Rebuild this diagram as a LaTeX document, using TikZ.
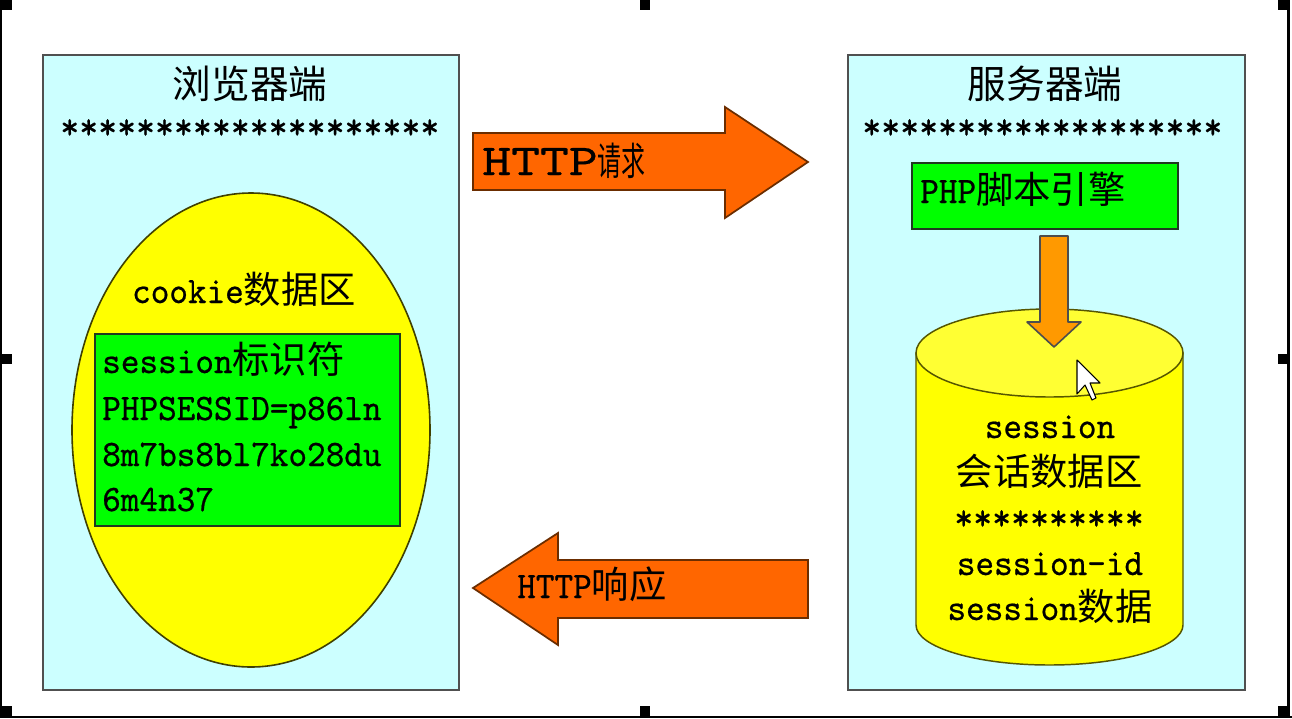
\documentclass[tikz,border=0pt]{standalone}
\usepackage{fontspec}
\setmainfont{lmmono10-regular.otf}[FakeStretch=0.95,FakeBold=0.6]
\newfontfamily\zh{Noto Sans CJK SC}
\newfontfamily\zhnarrow{Noto Sans CJK SC}[FakeStretch=0.62]
\newfontfamily\monowide{lmmono10-regular.otf}[FakeStretch=1.25,FakeBold=0.6]
\definecolor{cyanbg}{HTML}{CCFFFF}
\definecolor{panelline}{HTML}{505050}
\definecolor{ellyellow}{HTML}{FFFF00}
\definecolor{ellline}{HTML}{404000}
\definecolor{boxgreen}{HTML}{00FF00}
\definecolor{greenline}{HTML}{203A20}
\definecolor{arroworange}{HTML}{FF6600}
\definecolor{arrowline}{HTML}{6B2D00}
\definecolor{downorange}{HTML}{FF9900}
\definecolor{downline}{HTML}{4D4D4D}
\definecolor{cyltopc}{HTML}{FFFF33}
\definecolor{cylline}{HTML}{555500}
\begin{document}
\begin{tikzpicture}[x=0.75pt,y=-0.75pt,
  panel/.style={fill=cyanbg,draw=panelline,line width=1.9pt},
  ellfill/.style={fill=ellyellow,draw=ellline,line width=1.2pt},
  greenbox/.style={fill=boxgreen,draw=greenline,line width=1.5pt},
  bigarrow/.style={fill=arroworange,draw=arrowline,line width=1.3pt,line join=miter},
  downarrow/.style={fill=downorange,draw=downline,line width=1.2pt,line join=round},
  cylbody/.style={fill=ellyellow,draw=cylline,line width=1.1pt},
  cyltop/.style={fill=cyltopc,draw=cylline,line width=1.1pt},
  txt/.style={inner sep=0pt,font=\fontsize{28}{33}\selectfont},
  stars/.style={inner sep=0pt,font=\fontsize{28.5}{33}\selectfont},
  ttl/.style={inner sep=0pt,font=\fontsize{29}{34}\selectfont},
  handle/.style={fill=black}]
\useasboundingbox (0,0) rectangle (1292,718);
\fill[white] (0,0) rectangle (1292,718);
% frame and selection handles
\fill[black] (0,10) rectangle (2,718);
\fill[black] (0,716) rectangle (1292,718);
\fill[black] (1287,10) rectangle (1290,718);
\fill[handle] (0,0) rectangle (12,10);
\fill[handle] (640,0) rectangle (650,10);
\fill[handle] (1278,0) rectangle (1290,10);
\fill[handle] (0,354) rectangle (12,364);
\fill[handle] (1278,354) rectangle (1290,364);
\fill[handle] (0,706) rectangle (12,718);
\fill[handle] (640,706) rectangle (650,716);
\fill[handle] (1278,706) rectangle (1290,718);

% browser panel
\draw[panel] (43,55) rectangle (459,690);
\node[ttl,anchor=base] (btitle) at (250,98) {\zh 浏览器端};
\node[stars,anchor=base west] (bstars) at (60,139) {********************};
\draw[ellfill] (251,430) ellipse [x radius=179, y radius=237];
\node[txt,anchor=base] (cookie) at (244,303) {cookie{\zh 数据区}};
\draw[greenbox] (95,334) rectangle (400,526);
\node[txt,anchor=base west] (sid1) at (102,373) {session{\zh 标识符}};
\node[txt,anchor=base west] (sid2) at (102,420) {PHPSESSID=p86ln};
\node[txt,anchor=base west] (sid3) at (102,466) {8m7bs8bl7ko28du};
\node[txt,anchor=base west] (sid4) at (102,511) {6m4n37};

% server panel
\draw[panel] (848,55) rectangle (1245,690);
\node[ttl,anchor=base] (stitle) at (1045,98) {\zh 服务器端};
\node[stars,anchor=base west] (sstars) at (862,139) {*******************};
\draw[greenbox] (912,163) rectangle (1178,229);
\node[txt,anchor=base west] (php) at (920,203) {PHP{\zh 脚本引擎}};
% cylinder
\draw[cylbody] (916,353) -- (916,625) arc[start angle=180,end angle=0,x radius=133.5,y radius=40] -- (1183,353) -- cycle;
\draw[cyltop] (1049.5,353) ellipse [x radius=133.5, y radius=44];
\draw[downarrow] (1040,236) -- (1068,236) -- (1068,322) -- (1081,322) -- (1054,347) -- (1027,322) -- (1040,322) -- cycle;
\draw[fill=white,draw=black,line width=0.8pt,line join=round] (1077,360) -- (1077,394) -- (1085,385) -- (1092,400) -- (1096,398) -- (1090,383) -- (1100,383) -- cycle;
\node[txt,anchor=base] (c1) at (1050,438) {session};
\node[txt,anchor=base] (c2) at (1049,485) {\zh 会话数据区};
\node[stars,anchor=base] (c3) at (1049,530) {**********};
\node[txt,anchor=base] (c4) at (1050,575) {session-id};
\node[txt,anchor=base] (c5) at (1050,620) {session{\zh 数据}};

% HTTP arrows
\draw[bigarrow] (473,133) -- (725,133) -- (725,107) -- (808,162) -- (725,218) -- (725,190) -- (473,190) -- cycle;
\node[inner sep=0pt,anchor=base west] (req) at (482,175) {{\monowide\fontsize{33}{36}\selectfont HTTP}{\zhnarrow\fontsize{29}{34}\selectfont 请求}};
\draw[bigarrow] (808,560) -- (558,560) -- (558,533) -- (473,588) -- (558,645) -- (558,618) -- (808,618) -- cycle;
\node[txt,anchor=base west] (resp) at (517,598) {HTTP{\zh 响应}};
\end{tikzpicture}
\end{document}
